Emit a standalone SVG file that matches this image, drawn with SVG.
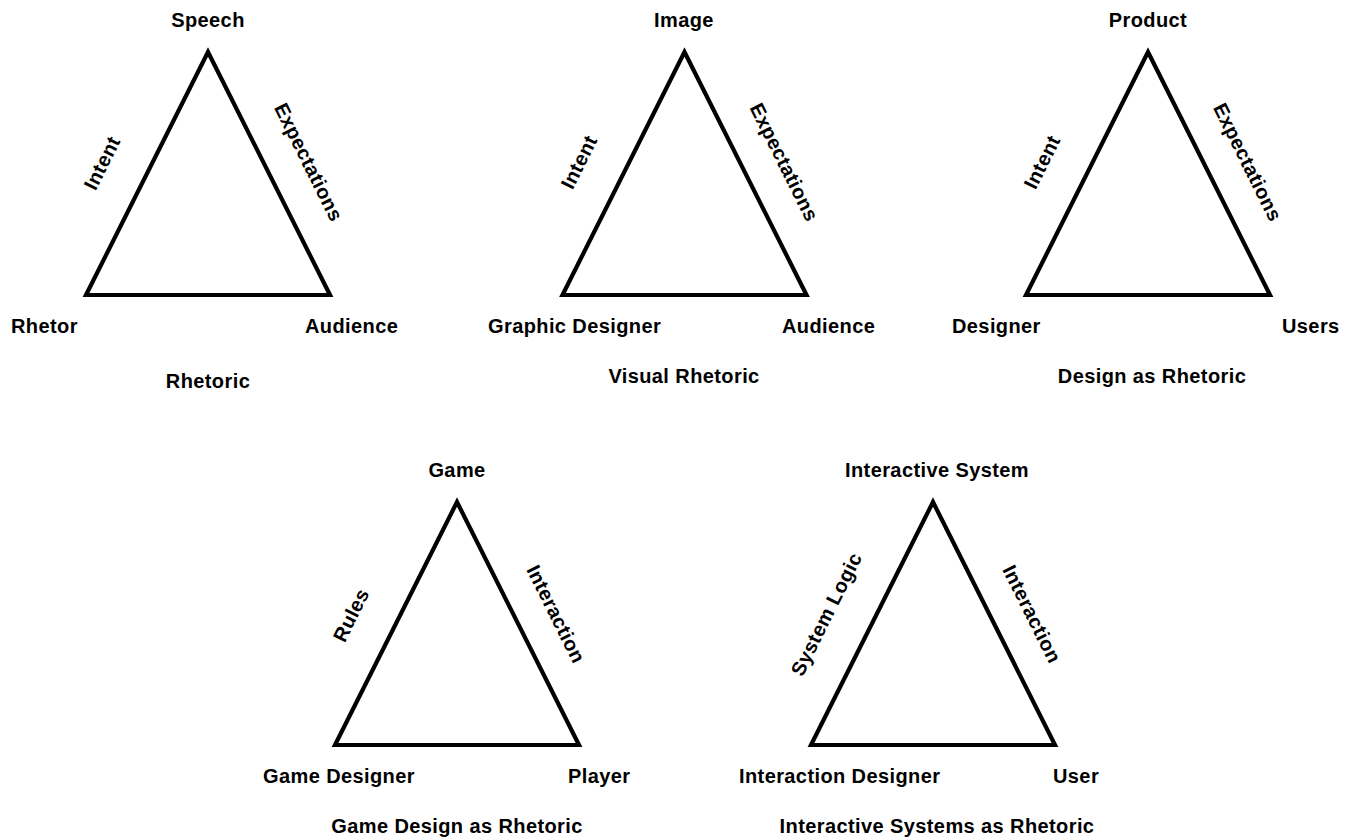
<svg xmlns="http://www.w3.org/2000/svg" width="1351" height="840" viewBox="0 0 1351 840">
<style>
.tri{fill:none;stroke:#000;stroke-width:4.2;stroke-linejoin:miter}
text{font-family:"Liberation Sans",Arial,Helvetica,sans-serif;font-weight:bold;font-size:20px;letter-spacing:0.4px;fill:#000}
.m{text-anchor:middle}
</style>
<defs>
<polygon id="triShape" points="0,0 -122,243 122,243"/>
</defs>
<rect width="1351" height="840" fill="#fff"/>
<g id="connectors">
<use href="#triShape" class="tri" x="208" y="52"/>
<use href="#triShape" class="tri" x="684.5" y="52"/>
<use href="#triShape" class="tri" x="1148" y="52"/>
<use href="#triShape" class="tri" x="457" y="502"/>
<use href="#triShape" class="tri" x="933" y="502"/>
</g>
<g id="rhetoric">
<text class="m" x="208" y="27">Speech</text>
<text x="11" y="333">Rhetor</text>
<text x="305" y="333">Audience</text>
<text class="m" x="208" y="388">Rhetoric</text>
<text class="m" transform="translate(102,163) rotate(-63.5)" y="7">Intent</text>
<text class="m" transform="translate(307,163) rotate(63.5)" y="5">Expectations</text>
</g>
<g id="visual-rhetoric">
<text class="m" x="684" y="27">Image</text>
<text x="488" y="333">Graphic Designer</text>
<text x="782" y="333">Audience</text>
<text class="m" x="684" y="383">Visual Rhetoric</text>
<text class="m" transform="translate(579,162) rotate(-63.5)" y="7">Intent</text>
<text class="m" transform="translate(782.5,163) rotate(63.5)" y="5">Expectations</text>
</g>
<g id="design-as-rhetoric">
<text class="m" x="1148" y="27">Product</text>
<text x="952" y="333">Designer</text>
<text x="1282" y="333">Users</text>
<text class="m" x="1152" y="383">Design as Rhetoric</text>
<text class="m" transform="translate(1042,162) rotate(-63.5)" y="7">Intent</text>
<text class="m" transform="translate(1246,163) rotate(63.5)" y="5">Expectations</text>
</g>
<g id="game-design-as-rhetoric">
<text class="m" x="457" y="477">Game</text>
<text x="263" y="783">Game Designer</text>
<text x="568" y="783">Player</text>
<text class="m" x="457" y="833">Game Design as Rhetoric</text>
<text class="m" transform="translate(351,615) rotate(-63.5)" y="7">Rules</text>
<text class="m" transform="translate(556,614) rotate(63.5)" y="7">Interaction</text>
</g>
<g id="interactive-systems-as-rhetoric">
<text class="m" x="937" y="477">Interactive System</text>
<text x="739" y="783">Interaction Designer</text>
<text x="1053" y="783">User</text>
<text class="m" x="937" y="833">Interactive Systems as Rhetoric</text>
<text class="m" transform="translate(828,615) rotate(-63.5)" y="5">System Logic</text>
<text class="m" transform="translate(1032,614) rotate(63.5)" y="7">Interaction</text>
</g>
</svg>
